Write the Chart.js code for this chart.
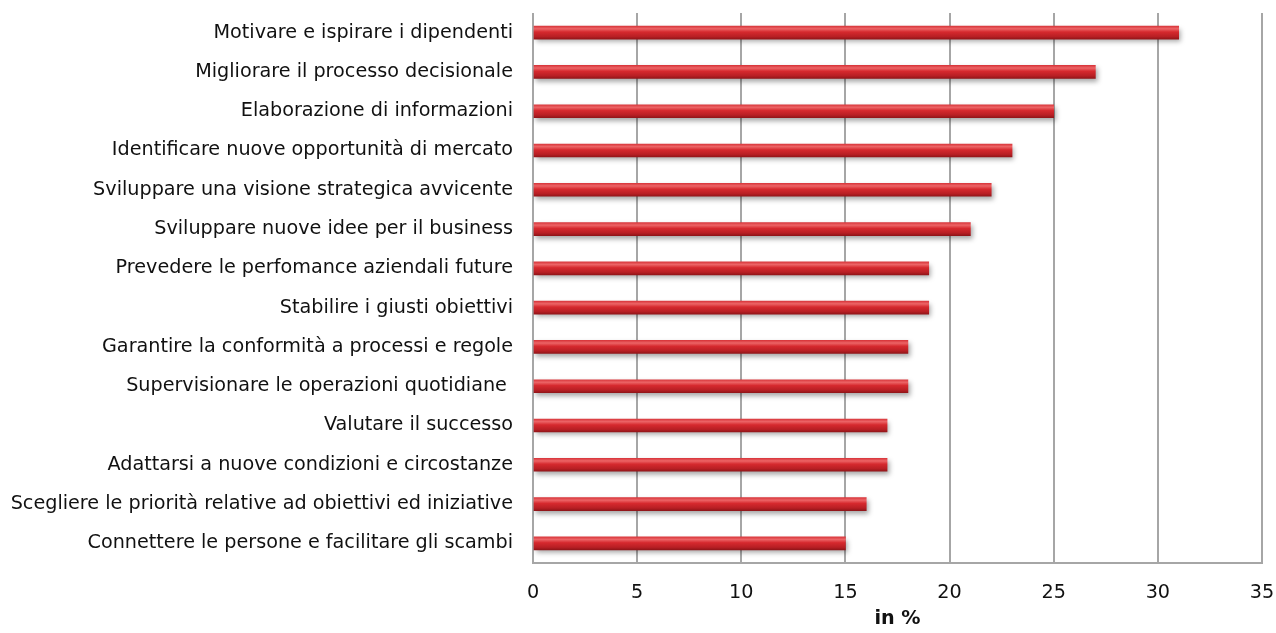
<!DOCTYPE html>
<html>
<head>
<meta charset="utf-8">
<script src="https://cdn.jsdelivr.net/npm/chart.js@4/dist/chart.umd.min.js"></script>
<style>
  html, body { margin: 0; padding: 0; background: #fff; }
  #wrap { width: 1276px; height: 633px; position: relative; }
</style>
</head>
<body>
<div id="wrap"><canvas id="chart"></canvas></div>
<script>
var categories = [
    "Motivare e ispirare i dipendenti",
    "Migliorare il processo decisionale",
    "Elaborazione di informazioni",
    "Identificare nuove opportunità di mercato",
    "Sviluppare una visione strategica avvicente",
    "Sviluppare nuove idee per il business",
    "Prevedere le perfomance aziendali future",
    "Stabilire i giusti obiettivi",
    "Garantire la conformità a processi e regole",
    "Supervisionare le operazioni quotidiane ",
    "Valutare il successo",
    "Adattarsi a nuove condizioni e circostanze",
    "Scegliere le priorità relative ad obiettivi ed iniziative",
    "Connettere le persone e facilitare gli scambi"
];
var values = [31, 27, 25, 23, 22, 21, 19, 19, 18, 18, 17, 17, 16, 15];
var xTicks = [0, 5, 10, 15, 20, 25, 30, 35];
var axisTitle = "in %";

var BAR_H = 13;
var gridColor = "#a6a6a6";
var labelFont = "'DejaVu Sans', 'Open Sans', sans-serif";
var FONT_SIZE = 19.2;

// cylinder-like fill: light top edge, dark bottom edge
function barFill(c) {
    var y = c.chart.scales.y;
    if (!y || c.dataIndex === undefined) return "#c0262c";
    var cy = y.getPixelForValue(c.dataIndex);
    if (!isFinite(cy)) return "#c0262c";
    var g = c.chart.ctx.createLinearGradient(0, cy - BAR_H / 2, 0, cy + BAR_H / 2);
    g.addColorStop(0, "#d9373c");
    g.addColorStop(0.2, "#ec6466");
    g.addColorStop(0.45, "#d6292e");
    g.addColorStop(0.8, "#b81f24");
    g.addColorStop(1, "#921519");
    return g;
}

// soft shadow under the bars
var shadowPlugin = {
    id: "barShadow",
    beforeDatasetDraw: function (chart) {
        var ctx = chart.ctx;
        ctx.save();
        ctx.shadowColor = "rgba(0,0,0,0.35)";
        ctx.shadowBlur = 5;
        ctx.shadowOffsetX = 2;
        ctx.shadowOffsetY = 3;
    },
    afterDatasetDraw: function (chart) {
        chart.ctx.restore();
    }
};

new Chart(document.getElementById("chart"), {
    type: "bar",
    data: {
        labels: categories,
        datasets: [{
            data: values,
            backgroundColor: barFill,
            borderWidth: 0,
            barThickness: BAR_H
        }]
    },
    options: {
        indexAxis: "y",
        responsive: true,
        maintainAspectRatio: false,
        animation: false,
        layout: { padding: { top: 13, right: 14, left: 0, bottom: 0 } },
        plugins: {
            legend: { display: false },
            tooltip: { enabled: false }
        },
        scales: {
            x: {
                min: 0,
                max: 35,
                afterBuildTicks: function (scale) {
                    scale.ticks = xTicks.map(function (v) { return { value: v }; });
                },
                afterFit: function (scale) {
                    scale.height = 70;
                    scale.paddingLeft = 0;
                    scale.paddingRight = 0;
                },
                grid: { color: gridColor, lineWidth: 2, drawTicks: false },
                border: { display: true, color: gridColor, width: 2 },
                ticks: {
                    padding: 18,
                    color: "#111",
                    font: { family: labelFont, size: FONT_SIZE }
                },
                title: {
                    display: true,
                    text: axisTitle,
                    color: "#111",
                    padding: { top: 4, bottom: 2 },
                    font: { family: labelFont, size: FONT_SIZE, weight: "bold" }
                }
            },
            y: {
                afterFit: function (scale) {
                    scale.width = 533;
                    scale.paddingTop = 0;
                    scale.paddingBottom = 0;
                },
                grid: { display: false, drawTicks: false },
                border: { display: false },
                ticks: {
                    padding: 20,
                    autoSkip: false,
                    color: "#111",
                    font: { family: labelFont, size: FONT_SIZE }
                }
            }
        }
    },
    plugins: [shadowPlugin]
});
</script>
</body>
</html>
